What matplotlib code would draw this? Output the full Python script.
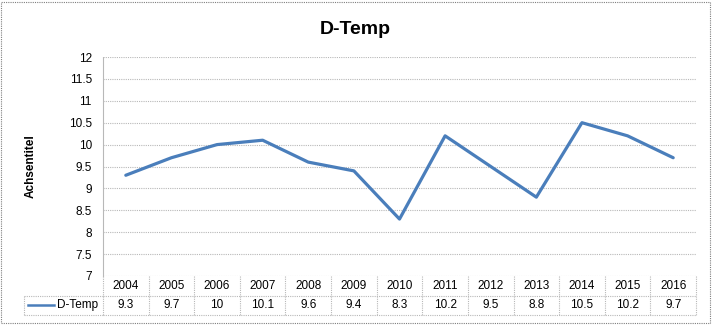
import matplotlib.pyplot as plt
import matplotlib.transforms as mtransforms
from matplotlib.patches import Rectangle

years = ["2004", "2005", "2006", "2007", "2008", "2009", "2010",
         "2011", "2012", "2013", "2014", "2015", "2016"]
d_temp = [9.3, 9.7, 10, 10.1, 9.6, 9.4, 8.3, 10.2, 9.5, 8.8, 10.5, 10.2, 9.7]
value_labels = ["9.3", "9.7", "10", "10.1", "9.6", "9.4", "8.3",
                "10.2", "9.5", "8.8", "10.5", "10.2", "9.7"]
y_ticks = [7, 7.5, 8, 8.5, 9, 9.5, 10, 10.5, 11, 11.5, 12]
y_tick_labels = ["7", "7.5", "8", "8.5", "9", "9.5", "10", "10.5", "11", "11.5", "12"]
series_name = "D-Temp"
title = "D-Temp"
y_title = "Achsentitel"

plt.rcParams['font.family'] = ['Liberation Sans', 'DejaVu Sans']

W, H = 712, 325
line_col = "#4a7ebb"
grid_col = "#b8b8b8"

fig = plt.figure(figsize=(W / 100, H / 100), dpi=100)

# plot area in pixels
px_l, px_r, px_t, px_b = 103, 696, 57, 276
ax = fig.add_axes([px_l / W, 1 - px_b / H, (px_r - px_l) / W, (px_b - px_t) / H])

x = list(range(len(years)))
ax.plot(x, d_temp, color=line_col, lw=2.3, solid_capstyle="round", zorder=3)
ax.set_xlim(-0.5, len(years) - 0.5)
ax.set_ylim(7, 12)
ax.set_yticks(y_ticks)
ax.set_yticklabels(y_tick_labels, fontsize=8.5)
ax.set_xticks([])
ax.tick_params(axis="y", length=0, pad=8)
for v in y_ticks:
    ax.axhline(v, color=grid_col, lw=0.8, ls=(0, (1, 1)), zorder=1)
for s in ["top", "right", "bottom"]:
    ax.spines[s].set_visible(False)
ax.spines["left"].set_color(grid_col)
ax.spines["left"].set_linestyle((0, (1, 1)))
ax.spines["left"].set_linewidth(0.8)

ax.set_ylabel(y_title, fontsize=8.5, fontweight="bold")
ax.yaxis.set_label_coords(-66 / (px_r - px_l), 0.5)

fig.text(355 / W, 1 - 30 / H, title, fontsize=14, fontweight="bold",
         ha="center", va="center")

# data table under the axis
row_h = 19.5 / (px_b - px_t)
trans = mtransforms.blended_transform_factory(ax.transData, ax.transAxes)
tbl_kw = dict(color=grid_col, lw=0.8, ls=(0, (1, 1)), clip_on=False)
n = len(years)
for i in range(n + 1):
    ax.plot([i - 0.5, i - 0.5], [0, -2 * row_h], transform=trans, **tbl_kw)
for r in (1, 2):
    ax.plot([-0.5, n - 0.5], [-r * row_h, -r * row_h], transform=trans, **tbl_kw)
for i, (yr, lab) in enumerate(zip(years, value_labels)):
    ax.text(i, -0.5 * row_h, yr, transform=trans, ha="center", va="center", fontsize=8.5)
    ax.text(i, -1.5 * row_h, lab, transform=trans, ha="center", va="center", fontsize=8.5)

# legend cell on the left of the value row
leg_l = (24 - px_l) / (px_r - px_l)
ax.plot([leg_l, leg_l], [-row_h, -2 * row_h], transform=ax.transAxes, **tbl_kw)
ax.plot([leg_l, 0], [-row_h, -row_h], transform=ax.transAxes, **tbl_kw)
ax.plot([leg_l, 0], [-2 * row_h, -2 * row_h], transform=ax.transAxes, **tbl_kw)
k = 1 / (px_r - px_l)
ax.plot([leg_l + 4 * k, leg_l + 30 * k], [-1.5 * row_h, -1.5 * row_h],
        transform=ax.transAxes, color=line_col, lw=1.8, clip_on=False)
ax.text(leg_l + 33 * k, -1.5 * row_h, series_name, transform=ax.transAxes,
        ha="left", va="center", fontsize=8.5)

# dotted chart frame
fig.patches.append(Rectangle((1 / W, 2 / H), (W - 3) / W, (H - 4) / H,
                             transform=fig.transFigure, fill=False,
                             edgecolor="#7f7f7f", lw=0.8, ls=(0, (1, 1))))

fig.savefig("out.png", dpi=100)
